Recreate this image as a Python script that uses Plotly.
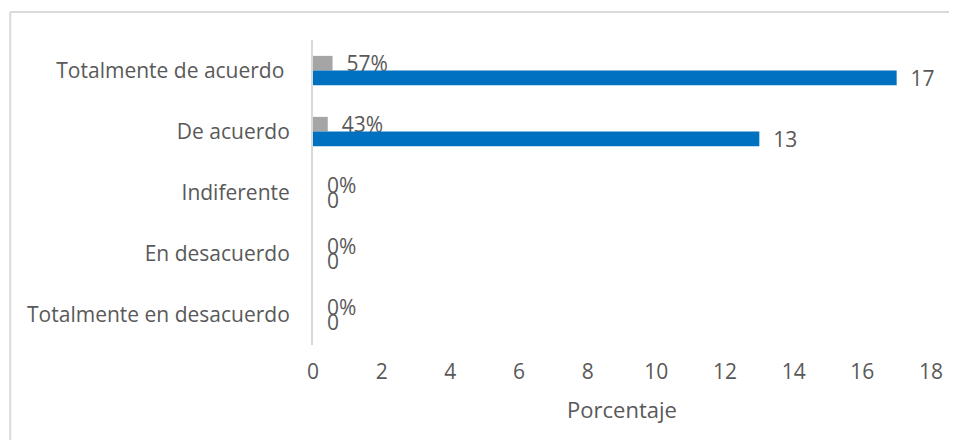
import plotly.graph_objects as go

# categories top to bottom
categorias = ['Totalmente de acuerdo ', 'De acuerdo', 'Indiferente',
              'En desacuerdo', 'Totalmente en desacuerdo']
porcentaje = [0.57, 0.43, 0, 0, 0]
frecuencia = [17, 13, 0, 0, 0]
etiq_pct = ['57%', '43%', '0%', '0%', '0%']
etiq_frec = ['17', '13', '0', '0', '0']
x_ticks = [0, 2, 4, 6, 8, 10, 12, 14, 16, 18]

FONT = 'Open Sans, Lato, sans-serif'
GRIS_TXT = '#595959'
BORDE = '#d9d9d9'

fig = go.Figure()

fig.add_trace(go.Bar(
    y=categorias, x=porcentaje, orientation='h',
    marker=dict(color='#a5a5a5', line=dict(width=0)),
    text=etiq_pct, texttemplate='  %{text}', textposition='outside',
    textangle=0, constraintext='none', cliponaxis=False,
    textfont=dict(family=FONT, size=21, color=GRIS_TXT),
    hoverinfo='skip', showlegend=False,
))

fig.add_trace(go.Bar(
    y=categorias, x=frecuencia, orientation='h',
    marker=dict(color='#0070c0', line=dict(width=0)),
    text=etiq_frec, texttemplate='  %{text}', textposition='outside',
    textangle=0, constraintext='none', cliponaxis=False,
    textfont=dict(family=FONT, size=21, color=GRIS_TXT),
    hoverinfo='skip', showlegend=False,
))

# page body has an 8px margin, so the figure is sized/offset for it
fig.update_layout(
    width=949, height=432,
    margin=dict(l=305, r=26, t=32, b=95),
    paper_bgcolor='white', plot_bgcolor='white',
    barmode='group', bargap=0.52, bargroupgap=0,
    font=dict(family=FONT, size=21, color=GRIS_TXT),
    xaxis=dict(
        range=[0, 18], tickvals=x_ticks, showgrid=False, zeroline=False,
        showline=False, ticks='', ticklabelstandoff=12,
        tickfont=dict(size=21, color=GRIS_TXT),
        title=dict(text='Porcentaje', font=dict(size=22, color=GRIS_TXT), standoff=18),
    ),
    yaxis=dict(
        autorange='reversed', showgrid=False, zeroline=False,
        showline=True, linecolor=BORDE, linewidth=2,
        ticks='', ticklabelstandoff=17,
        tickfont=dict(size=21, color=GRIS_TXT),
    ),
    # chart frame: only top and left edges are in view
    shapes=[
        dict(type='line', xref='paper', yref='paper',
             x0=-0.49, x1=1.5, y0=1.092, y1=1.092,
             line=dict(color=BORDE, width=2), layer='below'),
        dict(type='line', xref='paper', yref='paper',
             x0=-0.49, x1=-0.49, y0=-0.5, y1=1.092,
             line=dict(color=BORDE, width=2), layer='below'),
    ],
)

fig.write_html('out.html')
